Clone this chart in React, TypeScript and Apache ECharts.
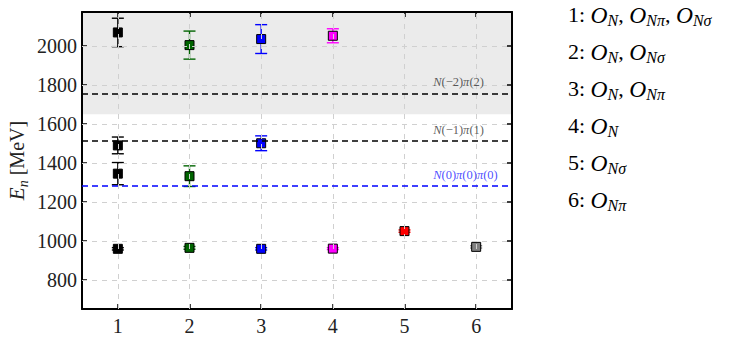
import React, { useEffect, useRef } from "react";
import * as echarts from "echarts";

// ---- data ----
const operatorSets = ["1", "2", "3", "4", "5", "6"];
const setColors = ["#000000", "#006400", "#0000ff", "#ff00ff", "#ff0000", "#808080"];
const energies1 = [959, 1345, 1490, 2070];
const errors1 = [6, 57, 43, 73];
const energies2 = [964, 1332, 2005];
const errors2 = [7, 53, 72];
const energies3 = [959, 1501, 2036];
const errors3 = [6, 38, 74];
const energies4 = [960, 2053];
const errors4 = [5, 36];
const energies5 = [1050];
const errors5 = [6];
const energies6 = [969];
const errors6 = [6];
const allEnergies = [energies1, energies2, energies3, energies4, energies5, energies6];
const allErrors = [errors1, errors2, errors3, errors4, errors5, errors6];

const thresholdValues = [1757, 1512, 1284];
const thresholdNames = ["N(−2)π(2)", "N(−1)π(1)", "N(0)π(0)π(0)"];
const thresholdColors = ["#000000", "#000000", "#0000ff"];
const annotationX = 5.4;
const shadedFrom = 1650;

const yMin = 650;
const yMax = 2175;
const xMin = 0.5;
const xMax = 6.5;
const yTicks = [800, 1000, 1200, 1400, 1600, 1800, 2000];
const xTicks = [1, 2, 3, 4, 5, 6];
const legendLines = [
  ["O|N", "O|Nπ", "O|Nσ"],
  ["O|N", "O|Nσ"],
  ["O|N", "O|Nπ"],
  ["O|N"],
  ["O|Nσ"],
  ["O|Nπ"],
];

const SERIF = "'Liberation Serif', 'DejaVu Serif', serif";

function mathLabel(s: string) {
  let out = "";
  for (const ch of s) {
    if (ch === "N" || ch === "π") out += `{i|${ch}}`;
    else out += `{r|${ch}}`;
  }
  return out;
}

export default function App() {
  const ref = useRef<HTMLDivElement>(null);
  useEffect(() => {
    if (!ref.current) return;
    document.body.style.margin = "0";
    const chart = echarts.init(ref.current, undefined, { renderer: "svg" });

    const series: any[] = [];
    operatorSets.forEach((name, i) => {
      const x = Number(name);
      const color = setColors[i];
      const vals = allEnergies[i];
      const errs = allErrors[i];
      series.push({
        type: "custom",
        name: "err" + name,
        xAxisIndex: 0,
        yAxisIndex: 0,
        z: 3,
        data: vals.map((v, k) => [x, v, errs[k]]),
        renderItem: (params: any, api: any) => {
          const xv = api.value(0);
          const yv = api.value(1);
          const e = api.value(2);
          const top = api.coord([xv, yv + e]);
          const bot = api.coord([xv, yv - e]);
          const hw = 6;
          const st = { stroke: color, lineWidth: 1.4 };
          return {
            type: "group",
            children: [
              { type: "line", shape: { x1: top[0], y1: top[1], x2: bot[0], y2: bot[1] }, style: st },
              { type: "line", shape: { x1: top[0] - hw, y1: top[1], x2: top[0] + hw, y2: top[1] }, style: st },
              { type: "line", shape: { x1: bot[0] - hw, y1: bot[1], x2: bot[0] + hw, y2: bot[1] }, style: st },
            ],
          };
        },
      });
      series.push({
        type: "scatter",
        name: "set" + name,
        z: 4,
        symbol: "rect",
        symbolSize: 9,
        itemStyle: { color, borderColor: "#000", borderWidth: 1, opacity: 1 },
        data: vals.map((v) => [x, v]),
      });
    });

    const gridLineStyle = { color: "#d0d0d0", type: [5, 5], width: 1 };
    series.push({
      type: "line",
      name: "thresholds",
      data: [],
      z: 2,
      markArea: {
        silent: true,
        itemStyle: { color: "rgba(0,0,0,0.08)" },
        data: [[{ yAxis: shadedFrom }, { yAxis: yMax }]],
      },
      markLine: {
        silent: true,
        symbol: "none",
        label: { show: false },
        data: [
          ...yTicks.map((v) => ({ yAxis: v, lineStyle: gridLineStyle })),
          ...xTicks.map((v) => ({ xAxis: v, lineStyle: gridLineStyle })),
          ...thresholdValues.map((v, k) => ({
            yAxis: v,
            lineStyle: { color: thresholdColors[k], type: [6, 4], width: 1.5 },
          })),
        ],
      },
    });
    series.push({
      type: "scatter",
      name: "annotations",
      symbolSize: 0,
      z: 5,
      data: thresholdValues.map((v, k) => {
        const c = thresholdColors[k] === "#000000" ? "#333" : "#2020ff";
        return {
          value: [annotationX, v],
          label: {
            show: true,
            position: "right",
            distance: 0,
            offset: [0, -11],
            formatter: mathLabel(thresholdNames[k]),
            rich: {
              i: { fontFamily: SERIF, fontStyle: "italic", fontSize: 12.5, color: c },
              r: { fontFamily: SERIF, fontSize: 12.5, color: c },
            },
          },
        };
      }),
    });

    const legendGraphics = legendLines.map((parts, k) => {
      const text =
        `{n|${k + 1}: }` +
        parts
          .map((p) => {
            const [big, sub] = p.split("|");
            return `{o|${big}}{s|${sub}}`;
          })
          .join("{n|, }");
      return {
        type: "text",
        left: 568,
        top: 3 + k * 37,
        style: {
          text,
          rich: {
            n: { fontFamily: SERIF, fontSize: 22, color: "#222", lineHeight: 28 },
            o: { fontFamily: SERIF, fontStyle: "italic", fontSize: 23.5, color: "#222", lineHeight: 28 },
            s: { fontFamily: SERIF, fontStyle: "italic", fontSize: 16, color: "#222", lineHeight: 15, verticalAlign: "bottom" },
          },
        },
      };
    });

    const axisLine = { show: true, onZero: false, lineStyle: { color: "#000", width: 2 } };
    const tickBase = { show: true, inside: true, length: 5, lineStyle: { color: "#000", width: 1.5 } };
    const xTickCfg = { ...tickBase, customValues: xTicks };
    const yTickCfg = { ...tickBase, customValues: yTicks };
    const labelBase = { fontFamily: SERIF, fontSize: 20, color: "#222", formatter: (v: number) => String(v) };

    chart.setOption({
      animation: false,
      textStyle: { fontFamily: SERIF },
      grid: { left: 82, right: 235, top: 12, bottom: 35, containLabel: false, outerBoundsMode: "none" },
      xAxis: [
        {
          type: "value",
          min: xMin,
          max: xMax,
          axisLine,
          axisTick: xTickCfg,
          axisLabel: { ...labelBase, margin: 7, customValues: xTicks },
          splitLine: { show: false },
        },
        {
          type: "value",
          position: "top",
          min: xMin,
          max: xMax,
          axisLine,
          axisTick: xTickCfg,
          axisLabel: { show: false },
          splitLine: { show: false },
        },
      ],
      yAxis: [
        {
          type: "value",
          min: yMin,
          max: yMax,
          axisLine,
          axisTick: yTickCfg,
          name: "{e|E}{s|n}{r| [MeV]}",
          nameLocation: "middle",
          nameGap: 52,
          nameMoveOverlap: false,
          nameTextStyle: {
            rich: {
              e: { fontFamily: SERIF, fontStyle: "italic", fontSize: 21, color: "#222", lineHeight: 26 },
              s: { fontFamily: SERIF, fontStyle: "italic", fontSize: 14, color: "#222", lineHeight: 14, verticalAlign: "bottom" },
              r: { fontFamily: SERIF, fontSize: 20, color: "#222", lineHeight: 26 },
            },
          },
          axisLabel: { ...labelBase, margin: 5, customValues: yTicks },
          splitLine: { show: false },
        },
        {
          type: "value",
          position: "right",
          min: yMin,
          max: yMax,
          axisLine,
          axisTick: yTickCfg,
          axisLabel: { show: false },
          splitLine: { show: false },
        },
      ],
      graphic: legendGraphics,
      series,
    });
    return () => chart.dispose();
  }, []);
  return <div ref={ref} style={{ width: 747, height: 344 }} />;
}
